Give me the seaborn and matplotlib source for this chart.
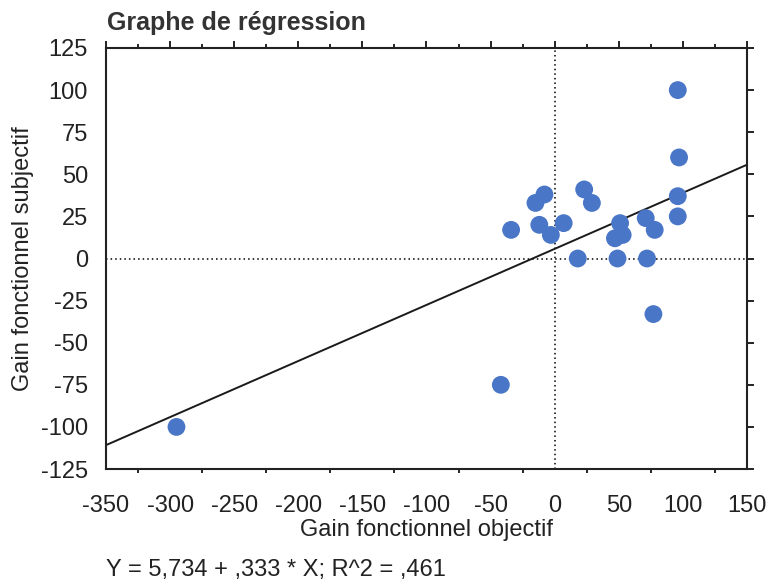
import matplotlib
matplotlib.use("Agg")
import matplotlib.pyplot as plt
from matplotlib.ticker import MultipleLocator
import numpy as np
import pandas as pd
import seaborn as sns

# Objective vs subjective functional gain per patient
gain_objectif = [-295, -42, -34, -15, -8, -12, -3, 7, 23, 29, 18,
                 51, 53, 47, 49, 71, 78, 72, 77, 96, 97, 96, 96]
gain_subjectif = [-100, -75, 17, 33, 38, 20, 14, 21, 41, 33, 0,
                  21, 14, 12, 0, 24, 17, 0, -33, 100, 60, 37, 25]

# Fitted regression reported under the chart
intercept = 5.734
slope = 0.333
r2 = 0.461

x_range = [-350, 150]
y_range = [-125, 125]

sns.set_theme(style="white")
plt.rcParams["font.family"] = ["Liberation Sans", "DejaVu Sans"]
plt.rcParams["axes.unicode_minus"] = False

df = pd.DataFrame({"objectif": gain_objectif, "subjectif": gain_subjectif})
line_x = np.array(x_range, dtype=float)
line_df = pd.DataFrame({"x": line_x, "y": intercept + slope * line_x})

fig = plt.figure(figsize=(7.69, 5.83), dpi=100)
ax = fig.add_axes([0.1378, 0.1955, 0.8336, 0.7222])

ax.axhline(0, color="black", lw=1.1, ls=(0, (1, 2)), zorder=1)
ax.axvline(0, color="black", lw=1.1, ls=(0, (1, 2)), zorder=1)
sns.lineplot(data=line_df, x="x", y="y", ax=ax, color="#1a1a1a", lw=1.4, zorder=2)
sns.scatterplot(data=df, x="objectif", y="subjectif", ax=ax, s=165,
                color="#4a76c8", edgecolor="none", zorder=3)

ax.set_xlim(*x_range)
ax.set_ylim(*y_range)
ax.xaxis.set_major_locator(MultipleLocator(50))
ax.xaxis.set_minor_locator(MultipleLocator(25))
ax.yaxis.set_major_locator(MultipleLocator(25))
ax.tick_params(axis="both", which="major", direction="out", length=5, width=1.4,
               labelsize=17, colors="#222222", top=True, right=True,
               labeltop=False, labelright=False)
ax.tick_params(axis="x", which="major", pad=14)
ax.tick_params(axis="y", which="major", pad=8)
ax.tick_params(axis="x", which="minor", direction="out", length=3, width=1.4,
               top=True, bottom=True)
for sp in ax.spines.values():
    sp.set_color("#222222")
    sp.set_linewidth(1.5)

ax.set_xlabel("Gain fonctionnel objectif", fontsize=17, color="#222222", labelpad=1)
ax.set_ylabel("Gain fonctionnel subjectif", fontsize=17, color="#222222", labelpad=5)

fig.text(0.139, 0.9485, "Graphe de régression", fontsize=18, fontweight="bold",
         color="#333333", va="baseline")
fig.text(0.138, 0.012, f"Y = {intercept:.3f} + {slope:.3f} * X; R^2 = {r2:.3f}"
         .replace("0.", ",").replace(".", ","), fontsize=17,
         color="#222222", va="baseline")

fig.savefig("out.png", dpi=100)
